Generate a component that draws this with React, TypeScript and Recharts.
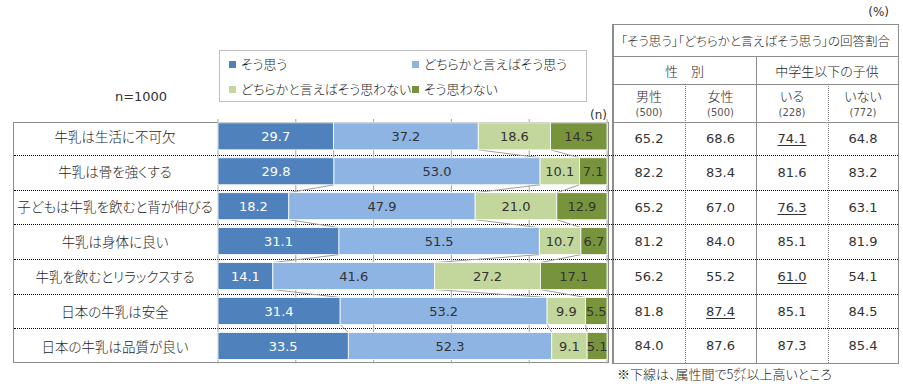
import React from 'react';
import { BarChart, Bar, XAxis, YAxis, CartesianGrid, LabelList } from 'recharts';

const CATEGORIES = [
  '牛乳は生活に不可欠',
  '牛乳は骨を強くする',
  '子どもは牛乳を飲むと背が伸びる',
  '牛乳は身体に良い',
  '牛乳を飲むとリラックスする',
  '日本の牛乳は安全',
  '日本の牛乳は品質が良い',
];
const SERIES_NAMES = ['そう思う', 'どちらかと言えばそう思う', 'どちらかと言えばそう思わない', 'そう思わない'];
const STRONG_AGREE = [29.7, 29.8, 18.2, 31.1, 14.1, 31.4, 33.5];
const AGREE = [37.2, 53.0, 47.9, 51.5, 41.6, 53.2, 52.3];
const DISAGREE = [18.6, 10.1, 21.0, 10.7, 27.2, 9.9, 9.1];
const STRONG_DISAGREE = [14.5, 7.1, 12.9, 6.7, 17.1, 5.5, 5.1];
const X_TICKS = [0, 20, 40, 60, 80, 100];

const TABLE_TITLE = '「そう思う」「どちらかと言えばそう思う」の回答割合';
const GROUPS = ['性　別', '中学生以下の子供'];
const COL_HEADERS = ['男性', '女性', 'いる', 'いない'];
const COL_N = ['(500)', '(500)', '(228)', '(772)'];
const MALE = [65.2, 82.2, 65.2, 81.2, 56.2, 81.8, 84.0];
const FEMALE = [68.6, 83.4, 67.0, 84.0, 55.2, 87.4, 87.6];
const WITH_CHILD = [74.1, 81.6, 76.3, 85.1, 61.0, 85.1, 87.3];
const NO_CHILD = [64.8, 83.2, 63.1, 81.9, 54.1, 84.5, 85.4];
const UNDERLINED: [number, number][] = [[2, 0], [2, 2], [2, 4], [1, 5]];
const FOOTNOTE = '※下線は、属性間で5㌽以上高いところ';

const COLORS = ['#4F81BD', '#8DB4E2', '#C3D69B', '#77933C'];
const LABEL_COLORS = ['#FFFFFF', '#333333', '#333333', '#333333'];
const KEYS = ['s1', 's2', 's3', 's4'];
const SERIES_VALUES = [STRONG_AGREE, AGREE, DISAGREE, STRONG_DISAGREE];
const TABLE_COLS = [MALE, FEMALE, WITH_CHILD, NO_CHILD];

const data = CATEGORIES.map((label, i) => ({
  label,
  s1: STRONG_AGREE[i],
  s2: AGREE[i],
  s3: DISAGREE[i],
  s4: STRONG_DISAGREE[i],
}));

// layout
const W = 903;
const H = 389;
const PLOT_TOP = 119;
const PLOT_BOTTOM = 363.5;
const PLOT_LEFT = 218;
const PLOT_RIGHT = 607;
const STEP = (PLOT_BOTTOM - PLOT_TOP) / CATEGORIES.length;
const FONT = '"Noto Sans CJK JP", "Noto Sans", sans-serif';
const NUM_FONT = '"DejaVu Sans", "Noto Sans CJK JP", sans-serif';
const TXT = '#1E1E1E';
const NUM_TXT = '#333333';

const rowBoundary = (i: number) => (i === 0 ? 122 : i === CATEGORIES.length ? 363 : 120.5 + i * 34.64);
const COL_X = [613, 685, 756, 828, 898];

const cum = (row: number, upto: number) => {
  let s = 0;
  for (let k = 0; k <= upto; k++) s += SERIES_VALUES[k][row];
  return s;
};

const makeShape = (si: number) => (props: any) => {
  const { x, y, width, height, fill, index } = props;
  const v = SERIES_VALUES[si][index];
  const ppu = v ? width / v : 0;
  const before = cum(index, si) - v;
  const x0 = x - before * ppu;
  let line = null;
  if (si < 3 && index < CATEGORIES.length - 1) {
    const nx = x0 + cum(index + 1, si) * ppu;
    line = (
      <line x1={x + width} y1={y + height} x2={nx} y2={y + STEP} stroke="#A0A0A0" strokeWidth={1} />
    );
  }
  return (
    <g>
      <rect x={x} y={y} width={width} height={height} fill={fill} stroke="#FFFFFF" strokeWidth={0.8} />
      {line}
    </g>
  );
};

const CategoryTick = (props: any) => {
  const { x, y, payload } = props;
  return (
    <text x={x - 103} y={y} textAnchor="middle" dominantBaseline="central" fontSize={13.5} fill={TXT} style={{ fontFamily: FONT, fontFeatureSettings: '"palt"', fontWeight: 300 }}>
      {payload.value}
    </text>
  );
};

const abs = (l: number, t: number, w: number, h: number, extra: React.CSSProperties = {}): React.CSSProperties => ({
  position: 'absolute', left: l, top: t, width: w, height: h, boxSizing: 'border-box', ...extra,
});

const centerText = (l: number, t: number, w: number, h: number, size: number, extra: React.CSSProperties = {}): React.CSSProperties => ({
  ...abs(l, t, w, h),
  display: 'flex', alignItems: 'center', justifyContent: 'center', fontSize: size, color: TXT, whiteSpace: 'nowrap', ...extra,
});

const numStyle: React.CSSProperties = { fontFamily: NUM_FONT, fontWeight: 400, color: NUM_TXT };

export default function App() {
  const gridColor = '#8C8C8C';
  const rows = CATEGORIES.map((_, i) => i);
  return (
    <div style={{ position: 'absolute', left: 0, top: 0, width: W, height: H, background: '#fff', fontFamily: FONT, fontFeatureSettings: '"palt"', fontWeight: 300, overflow: 'hidden' }}>
      {/* left box */}
      <div style={abs(13, 122, 596, 241, { border: `1px solid ${gridColor}` })} />
      {/* table frame */}
      <div style={abs(612, 24, 287, 340, { border: `1px solid ${gridColor}`, borderLeft: `2px solid ${gridColor}` })} />
      <div style={abs(613, 56, 285, 1, { background: gridColor })} />
      <div style={abs(613, 84, 285, 1, { background: gridColor })} />
      <div style={abs(613, 121.5, 285, 1, { background: gridColor })} />
      <div style={abs(COL_X[2], 56, 1, 307, { background: gridColor })} />
      <div style={abs(COL_X[1], 84, 1, 279, { borderLeft: '1px dotted #777' })} />
      <div style={abs(COL_X[3], 84, 1, 279, { borderLeft: '1px dotted #777' })} />
      {/* dotted row dividers */}
      {rows.slice(1).map((i) => (
        <div key={`d${i}`} style={abs(14, rowBoundary(i), 884, 1, { borderTop: '1px dotted #000' })} />
      ))}

      {/* table headers */}
      <div style={centerText(613, 24, 285, 32, 12.5)}>{TABLE_TITLE}</div>
      <div style={centerText(COL_X[0], 56, COL_X[2] - COL_X[0], 28, 13)}>{GROUPS[0]}</div>
      <div style={centerText(COL_X[2], 56, COL_X[4] - COL_X[2], 28, 13)}>{GROUPS[1]}</div>
      {COL_HEADERS.map((h, c) => (
        <React.Fragment key={h}>
          <div style={centerText(COL_X[c], 85, COL_X[c + 1] - COL_X[c], 20, 13)}>{h}</div>
          <div style={centerText(COL_X[c], 105, COL_X[c + 1] - COL_X[c], 15, 10, { ...numStyle, color: '#555' })}>{COL_N[c]}</div>
        </React.Fragment>
      ))}
      {TABLE_COLS.map((col, c) =>
        col.map((v, r) => {
          const u = UNDERLINED.some(([uc, ur]) => uc === c && ur === r);
          return (
            <div key={`t${c}-${r}`} style={centerText(COL_X[c], rowBoundary(r), COL_X[c + 1] - COL_X[c], rowBoundary(r + 1) - rowBoundary(r), 13, numStyle)}>
              <span style={u ? { textDecoration: 'underline', textUnderlineOffset: 2 } : {}}>{v.toFixed(1)}</span>
            </div>
          );
        })
      )}

      {/* legend */}
      <div style={abs(219, 50, 368, 52, { border: '1px solid #BFBFBF' })} />
      {SERIES_NAMES.map((name, i) => {
        const lx = i % 2 === 0 ? 229 : 412;
        const ly = i < 2 ? 64 : 89;
        return (
          <React.Fragment key={name}>
            <div style={abs(lx, ly - 3.5, 7, 7, { background: COLORS[i] })} />
            <div style={{ position: 'absolute', left: lx + 12, top: ly - 10, height: 20, lineHeight: '20px', fontSize: 13, color: TXT, whiteSpace: 'nowrap' }}>{name}</div>
          </React.Fragment>
        );
      })}

      <div style={centerText(101, 86, 80, 20, 13, numStyle)}>n=1000</div>
      <div style={{ position: 'absolute', right: W - 607, top: 105, height: 20, lineHeight: '20px', fontSize: 12, ...numStyle }}>(n)</div>
      <div style={{ position: 'absolute', right: W - 889, top: 2, height: 20, lineHeight: '20px', fontSize: 12, ...numStyle }}>(%)</div>
      <div style={{ position: 'absolute', left: 617, top: 364, height: 20, lineHeight: '20px', fontSize: 13, color: TXT, whiteSpace: 'nowrap' }}>{FOOTNOTE}</div>

      <div style={{ position: 'absolute', left: 0, top: 0 }}>
        <BarChart
          width={W}
          height={H}
          data={data}
          layout="vertical"
          margin={{ top: PLOT_TOP, right: W - PLOT_RIGHT, bottom: H - PLOT_BOTTOM, left: 13 }}
          barCategoryGap="11%"
          style={{ fontFamily: FONT }}
        >
          <CartesianGrid horizontal={false} vertical stroke="#A6A6A6" />
          <XAxis type="number" domain={[0, 100]} ticks={X_TICKS} hide />
          <YAxis
            type="category"
            dataKey="label"
            width={PLOT_LEFT - 13}
            axisLine={false}
            tickLine={false}
            tickSize={0}
            tickMargin={0}
            tick={<CategoryTick />}
            interval={0}
          />
          {KEYS.map((k, si) => (
            <Bar key={k} dataKey={k} name={SERIES_NAMES[si]} stackId="a" fill={COLORS[si]} isAnimationActive={false} shape={makeShape(si)}>
              <LabelList dataKey={k} position="center" fill={LABEL_COLORS[si]} fontSize={13} fontWeight={400} style={{ fontFamily: NUM_FONT }} formatter={(v: any) => Number(v).toFixed(1)} />
            </Bar>
          ))}
        </BarChart>
      </div>
    </div>
  );
}
